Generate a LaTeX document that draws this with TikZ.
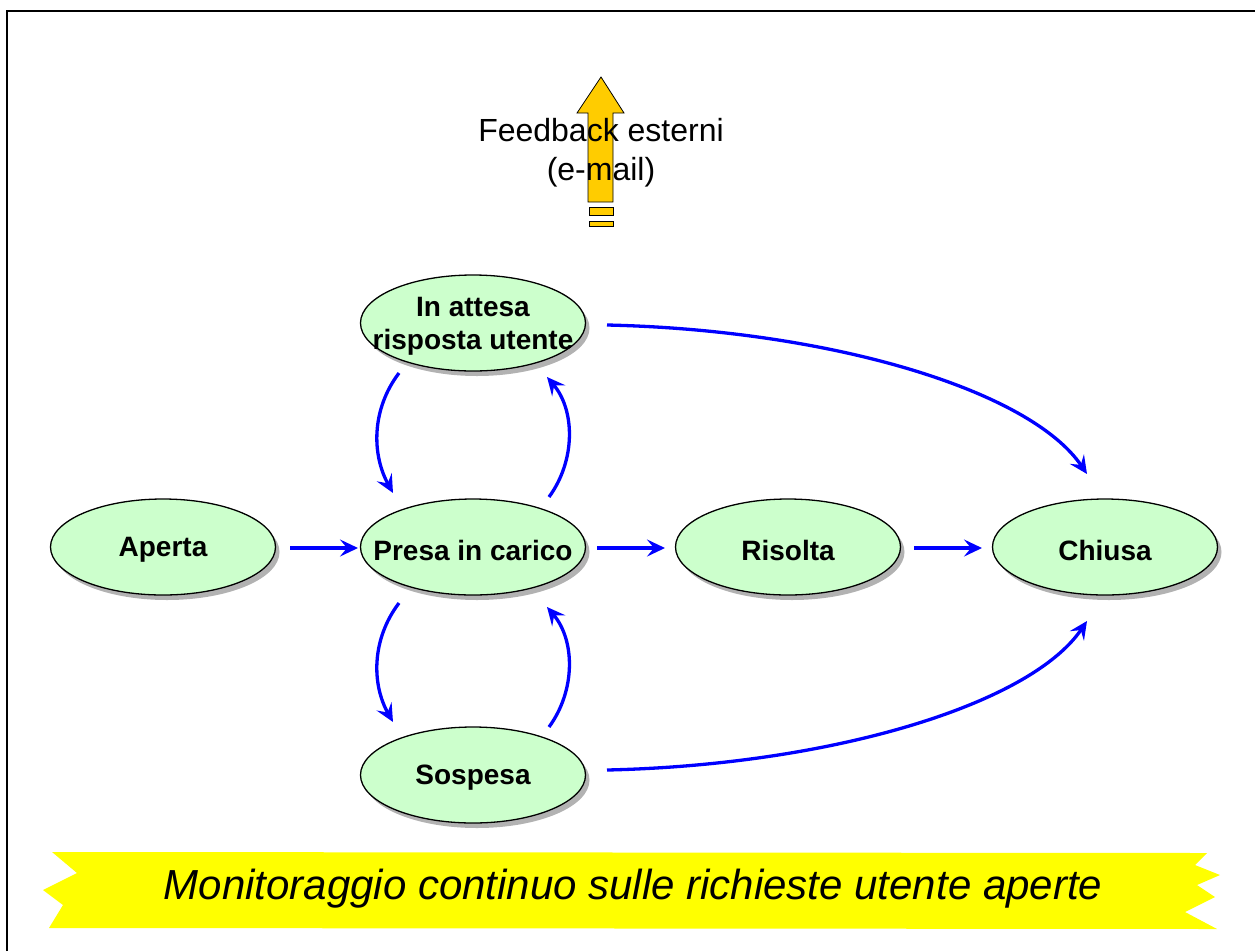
\documentclass[tikz,border=0pt]{standalone}
\usepackage{fontspec}
\setmainfont{Liberation Sans}
\usetikzlibrary{shapes.geometric,arrows.meta,calc,shadows}
\definecolor{nodegreen}{HTML}{CCFFCC}
\definecolor{arrowyellow}{HTML}{FFCC00}
\definecolor{banneryellow}{HTML}{FFFF00}
\begin{document}
\begin{tikzpicture}[x=1pt,y=-1pt,
  state/.style={ellipse,draw=black,line width=1.3pt,fill=nodegreen,
    minimum width=225pt,minimum height=96pt,inner sep=0pt,
    drop shadow={shadow xshift=4pt,shadow yshift=-5pt,fill=gray!60,opacity=1},
    label={[align=center,yshift=-3pt,font=\bfseries\fontsize{28}{33}\selectfont]center:#1}},
  flow/.style={draw=blue,line width=3.3pt,-{Stealth[length=18pt,width=17pt,inset=7pt]}},
]
\useasboundingbox (0,0) rectangle (1255,951);
% frame
\draw[line width=2.5pt] (7,951) -- (7,11) -- (1255,11);

% feedback arrow
\draw[fill=arrowyellow,line width=0.8pt] (588,202) -- (588,113) -- (577,113) -- (601,77) -- (624,113) -- (613,113) -- (613,202) -- cycle;
\draw[fill=arrowyellow,line width=0.8pt] (589,207) rectangle (613,215);
\draw[fill=arrowyellow,line width=0.8pt] (589,221) rectangle (613,226);
\node[align=center,font=\fontsize{32}{39}\selectfont] (fb) at (601,153) {Feedback esterni\\(e-mail)};

% states
\node[state={Aperta}] (aperta) at (163,547) {};
\node[state={Presa in carico}] (presa) at (473,547) {};
\node[state={Risolta}] (risolta) at (788,547) {};
\node[state={Chiusa}] (chiusa) at (1105,547) {};
\node[state={In attesa\\risposta utente}] (att) at (473,323) {};
\node[state={Sospesa}] (sosp) at (473,775) {};

% straight connectors
\draw[flow] ($(aperta)+(127,1)$) -- ($(presa)+(-115,1)$);
\draw[flow] ($(presa)+(124,1)$) -- ($(risolta)+(-123,1)$);
\draw[flow] ($(risolta)+(126,1)$) -- ($(chiusa)+(-123,1)$);

% curved connectors
\draw[flow] ($(att)+(-74,50)$) .. controls (371,410) and (372,455) .. ($(presa)+(-80,-54)$);
\draw[flow] ($(presa)+(76,-50)$) .. controls (576,460) and (575,410) .. ($(att)+(74,54)$);
\draw[flow] ($(presa)+(-74,56)$) .. controls (371,640) and (372,685) .. ($(sosp)+(-80,-53)$);
\draw[flow] ($(sosp)+(76,-48)$) .. controls (576,690) and (575,640) .. ($(presa)+(74,60)$);
\draw[flow] ($(att)+(134,2)$) .. controls (830,330) and (1030,390) .. ($(chiusa)+(-18,-73)$);
\draw[flow] ($(sosp)+(134,-5)$) .. controls (830,765) and (1030,705) .. ($(chiusa)+(-18,74)$);

% banner
\fill[banneryellow] (52,852) -- (1207,853) -- (1195,865) -- (1220,875) -- (1197,885) -- (1215,897) -- (1185,912) -- (1217,929) -- (49,928) -- (63,905) -- (43,890) -- (77,873) -- cycle;
\node[font=\itshape\fontsize{42}{48}\selectfont] (banner) at (633,889) {Monitoraggio continuo sulle richieste utente aperte};
\end{tikzpicture}
\end{document}
